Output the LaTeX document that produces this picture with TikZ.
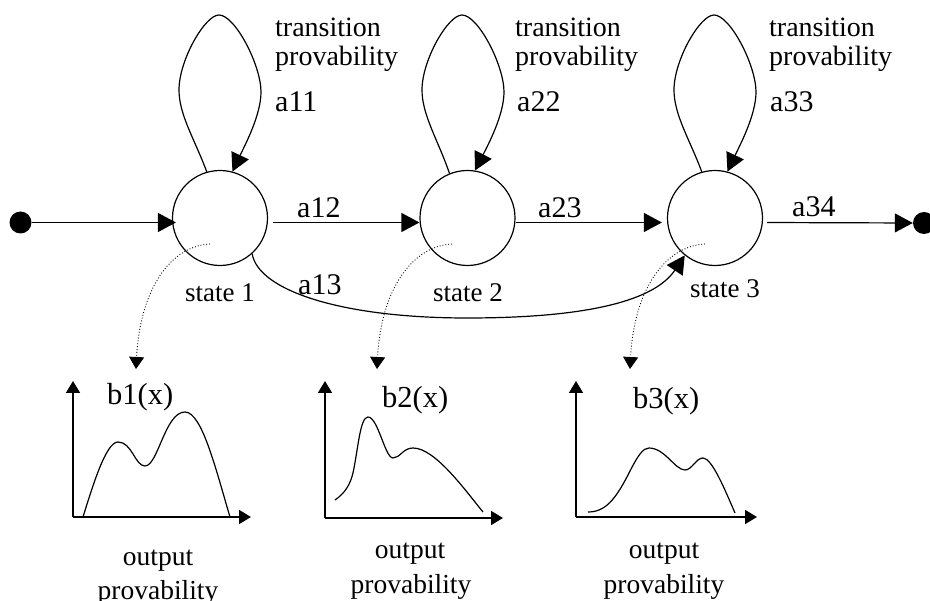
\documentclass[tikz,border=0pt]{standalone}
\usepackage{fontspec}
\setmainfont{Liberation Serif}
\usetikzlibrary{arrows.meta,calc}
\begin{document}
\begin{tikzpicture}[x=1pt,y=-1pt,
  statebox/.style={circle,draw,line width=1.2pt,minimum size=95pt,inner sep=0pt},
  enddot/.style={circle,fill,minimum size=22pt,inner sep=0pt},
  conn/.style={line width=1.2pt,-{Triangle[length=18pt,width=19pt]}},
  curvline/.style={line width=1.2pt},
  dotarr/.style={dotted,line width=0.9pt,-{Triangle[length=12pt,width=15pt]}},
  axisline/.style={line width=1.8pt,-{Triangle[length=12pt,width=14pt]}},
  tlbl/.style={inner sep=0pt,anchor=base west,font=\fontsize{28}{30}\selectfont},
  albl/.style={inner sep=0pt,anchor=base west,font=\fontsize{30}{32}\selectfont},
  slbl/.style={inner sep=0pt,anchor=base west,font=\fontsize{27}{29}\selectfont},
  blbl/.style={inner sep=0pt,anchor=base west,font=\fontsize{30.5}{32}\selectfont},
  olbl/.style={inner sep=0pt,anchor=base,font=\fontsize{27.5}{29}\selectfont},
]
\useasboundingbox (0,0) rectangle (930,601);

% nodes
\node[enddot] (ini) at (20.5,222.5) {};
\node[statebox] (s1) at (220,218) {};
\node[statebox] (s2) at (467.5,218) {};
\node[statebox] (s3) at (715,218) {};
\node[enddot] (fin) at (924,223) {};

% horizontal transitions
\draw[conn,shorten >=-4pt] (ini) -- (s1.west |- ini);
\draw[conn,shorten <=5pt] (s1.east |- ini) -- (s2.west |- ini);
\draw[conn,shorten >=5pt] (s2.east |- ini) -- (s3.west |- ini);
\draw[conn,shorten <=4pt] (s3.east |- ini) -- (fin.west);

% self loops
\foreach \n/\sh/\a/\b in {s1/0/106/75, s2/243/112/81, s3/495/106/75}{
  \begin{scope}[xshift=\sh pt]
    \draw[conn] (\n.\a) .. controls (195,140) and (179,115) .. (179,90)
      .. controls (179,60) and (205,15) .. (219,15)
      .. controls (235,15) and (261,65) .. (261,92)
      .. controls (261,115) and (245,145) .. (\n.\b);
  \end{scope}
}

% a13 skip transition
\coordinate (low) at (467,318);
\draw[conn] (s1.-48) .. controls (258,290) and (340,318) .. (low)
  .. controls (590,318) and (655,300) .. (s3.231);

% dotted emission arrows
\coordinate (e1) at ($(s1)+(-10,26)$);
\coordinate (e2) at ($(s2)+(-15.5,26)$);
\coordinate (e3) at ($(s3)+(-10,26)$);
\coordinate (p1) at (136,369);
\coordinate (p2) at (377,369);
\coordinate (p3) at (630,369);
\foreach \i in {1,2,3}{
  \draw[dotarr] (e\i) .. controls ($(e\i)+(-40,2)$) and ($(p\i)+(4,-79)$) .. (p\i);
}

% labels top
\node[tlbl] (tr1) at (275,37) {transition};
\node[tlbl] (pr1) at (275,66) {provability};
\node[albl] (a11) at (275,112) {a11};
\node[tlbl] (tr2) at (515,37) {transition};
\node[tlbl] (pr2) at (515,66) {provability};
\node[albl] (a22) at (517,112) {a22};
\node[tlbl] (tr3) at (769,37) {transition};
\node[tlbl] (pr3) at (769,66) {provability};
\node[albl] (a33) at (770,112) {a33};

\node[albl] (a12) at (297,218) {a12};
\node[albl] (a23) at (538,218) {a23};
\node[albl] (a34) at (792,217) {a34};
\node[albl] (a13) at (298,295) {a13};

\node[slbl] (st1) at (185,301.5) {state 1};
\node[slbl] (st2) at (433,301.5) {state 2};
\node[slbl] (st3) at (690,297.5) {state 3};

% charts
\draw[axisline] (73,517) -- (73,381);
\draw[axisline] (73,517) -- (251,517);
\draw[axisline] (325,518) -- (325,381);
\draw[axisline] (325,518) -- (503,518);
\draw[axisline] (576,517) -- (576,381);
\draw[axisline] (576,517) -- (757,517);

\draw[curvline] (83,517) .. controls (93,485) and (106,442) .. (118,442)
  .. controls (132,442) and (135,466) .. (145,466)
  .. controls (158,466) and (165,412) .. (185,412)
  .. controls (202,412) and (216,470) .. (230,517);

\draw[curvline] (335,500) .. controls (345,493) and (350,485) .. (353,473)
  .. controls (358,450) and (360,417) .. (368,417)
  .. controls (378,417) and (385,458) .. (393,458)
  .. controls (400,458) and (403,448) .. (413,448)
  .. controls (435,448) and (465,490) .. (483,512);

\draw[curvline] (588,512) .. controls (605,512) and (615,500) .. (628,475)
  .. controls (638,455) and (643,448) .. (649,448)
  .. controls (665,448) and (675,470) .. (685,470)
  .. controls (692,470) and (696,458) .. (703,458)
  .. controls (712,458) and (725,490) .. (735,513);

\node[blbl] (b1) at (107,405) {b1(x)};
\node[blbl] (b2) at (382,408) {b2(x)};
\node[blbl] (b3) at (633,409) {b3(x)};

\node[olbl] (o1) at (158,566) {output};
\node[olbl] (q1) at (158,600) {provability};
\node[olbl] (o2) at (410,559) {output};
\node[olbl] (q2) at (411,594) {provability};
\node[olbl] (o3) at (664,559) {output};
\node[olbl] (q3) at (664,594) {provability};
\end{tikzpicture}
\end{document}
